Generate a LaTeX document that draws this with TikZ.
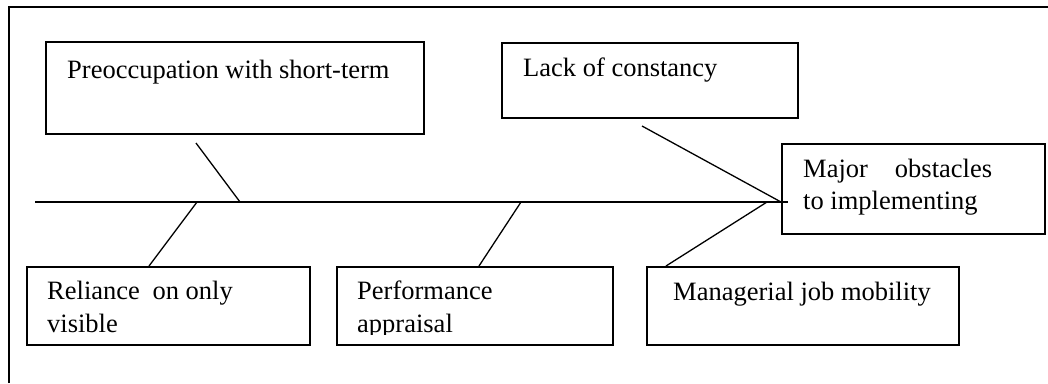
\documentclass[tikz,border=0pt]{standalone}
\usepackage{fontspec}
\setmainfont{Liberation Serif}
\usetikzlibrary{calc}
\begin{document}
\begin{tikzpicture}[x=1pt,y=-1pt,
  box/.style={draw, line width=1.6pt, inner sep=0pt, anchor=north west},
  txt/.style={anchor=base west, inner sep=0pt, font=\fontsize{26.5}{33}\selectfont},
  bone/.style={line width=1.3pt},
  frameline/.style={line width=2pt}]
\useasboundingbox (0,0) rectangle (1048,383);

% outer frame (top and left edges)
\coordinate (fbl) at (9,383);
\coordinate (ftl) at (9,7);
\coordinate (ftr) at (1048,7);
\draw[frameline] (fbl) -- (ftl) -- (ftr);

% cause boxes and the effect box
\node[box, minimum width=378pt, minimum height=92pt] (pre)  at (45,41)   {};
\node[box, minimum width=296pt, minimum height=75pt] (lack) at (501,42)  {};
\node[box, minimum width=263pt, minimum height=90pt] (maj)  at (781,143) {};
\node[box, minimum width=283pt, minimum height=78pt] (rel)  at (26,266)  {};
\node[box, minimum width=276pt, minimum height=78pt] (perf) at (336,266) {};
\node[box, minimum width=312pt, minimum height=78pt] (mgr)  at (646,266) {};

% labels
\node[txt] (preT)  at (67,78)   {Preoccupation with short-term};
\node[txt] (lackT) at (523,76)  {Lack of constancy};
\node[txt] (majA)  at (803,177) {Major\hspace{27pt}obstacles};
\node[txt] (majB)  at (803,209) {to implementing};
\node[txt] (relA)  at (47,299)  {Reliance\hspace{6pt} on only};
\node[txt] (relB)  at (47,332)  {visible};
\node[txt] (perfA) at (357,299) {Performance};
\begin{scope}
  \clip (336,300) rectangle (612,334);
  \node[txt] (perfB) at (357,332) {appraisal};
\end{scope}
\node[txt] (mgrT)  at (673,300) {Managerial job mobility};

% spine
\coordinate (tail) at (35,202);
\coordinate (tip)  at (788,202);
\draw[bone] (tail) -- (tip);

% joints on the spine
\coordinate (jPre)  at (240,202);
\coordinate (jRel)  at (197,202);
\coordinate (jPerf) at (521,202);
\coordinate (jLack) at (781,202);
\coordinate (jMgr)  at (767,202);

% free ends of the upper bones
\coordinate (ePre)  at (196,143);
\coordinate (eLack) at (642,126);

% bones
\draw[bone] (ePre) -- (jPre);
\draw[bone] (eLack) -- (jLack);
\draw[bone] ($(rel.north west)+(123,0)$) -- (jRel);
\draw[bone] ($(perf.north west)+(143,0)$) -- (jPerf);
\draw[bone] ($(mgr.north west)+(20,0)$) -- (jMgr);
\end{tikzpicture}
\end{document}
